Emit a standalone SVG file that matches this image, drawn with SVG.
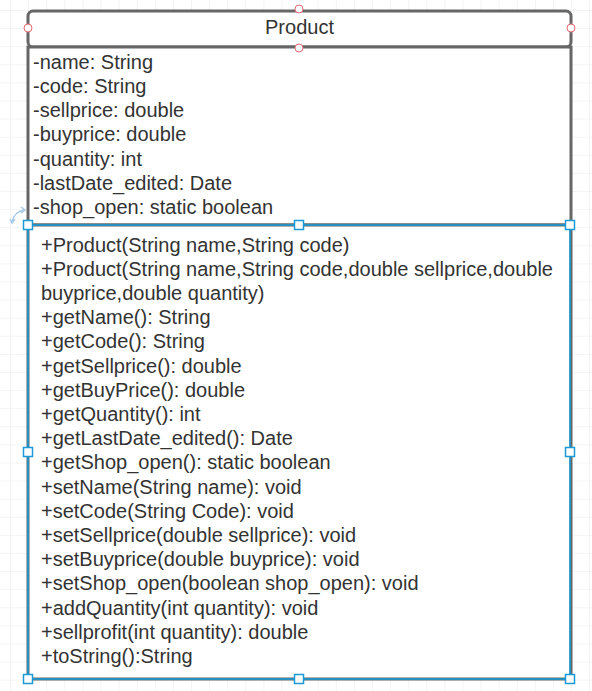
<svg xmlns="http://www.w3.org/2000/svg" width="592" height="691" viewBox="0 0 592 691">
<style>
.t{font-family:"Liberation Sans",Arial,sans-serif;font-size:20px;fill:#333}
.box{fill:#fff;stroke:#666;stroke-width:3}
.sel{fill:none;stroke:#1b9ad6;stroke-width:1.6}
.h{fill:#fff;stroke:#1b9ad6;stroke-width:1.5}
.c{fill:#fff;stroke:#e26a72;stroke-width:1}
</style>
<defs>
<pattern id="g" patternUnits="userSpaceOnUse" x="10" y="10" width="18.1" height="18.1">
<path d="M0 0H18.1M0 0V18.1" fill="none" stroke="#e9e9e9" stroke-width="1"/>
</pattern>
</defs>
<rect width="592" height="691" fill="#fff"/>
<rect width="592" height="691" fill="url(#g)"/>
<g id="header">
<rect class="box" x="28" y="11" width="543" height="36" rx="5"/>
<text class="t" x="299.5" y="34" text-anchor="middle">Product</text>
</g>
<g id="attributes">
<rect class="box" x="28" y="47" width="543" height="178"/>
<text class="t" x="33" y="68.5">-name: String</text>
<text class="t" x="33" y="92.8">-code: String</text>
<text class="t" x="33" y="117.1">-sellprice: double</text>
<text class="t" x="33" y="141.4">-buyprice: double</text>
<text class="t" x="33" y="165.7">-quantity: int</text>
<text class="t" x="33" y="190">-lastDate_edited: Date</text>
<text class="t" x="33" y="214.3">-shop_open: static boolean</text>
</g>
<g id="methods">
<rect class="box" x="28" y="225" width="543" height="454"/>
<rect class="sel" x="28" y="225" width="542" height="454"/>
<text class="t" x="41" y="251.5">+Product(String name,String code)</text>
<text class="t" x="41" y="275.7">+Product(String name,String code,double sellprice,double</text>
<text class="t" x="41" y="299.9">buyprice,double quantity)</text>
<text class="t" x="41" y="324.1">+getName(): String</text>
<text class="t" x="41" y="348.3">+getCode(): String</text>
<text class="t" x="41" y="372.5">+getSellprice(): double</text>
<text class="t" x="41" y="396.7">+getBuyPrice(): double</text>
<text class="t" x="41" y="420.9">+getQuantity(): int</text>
<text class="t" x="41" y="445.1">+getLastDate_edited(): Date</text>
<text class="t" x="41" y="469.3">+getShop_open(): static boolean</text>
<text class="t" x="41" y="493.5">+setName(String name): void</text>
<text class="t" x="41" y="517.7">+setCode(String Code): void</text>
<text class="t" x="41" y="541.9">+setSellprice(double sellprice): void</text>
<text class="t" x="41" y="566.1">+setBuyprice(double buyprice): void</text>
<text class="t" x="41" y="590.3">+setShop_open(boolean shop_open): void</text>
<text class="t" x="41" y="614.5">+addQuantity(int quantity): void</text>
<text class="t" x="41" y="638.7">+sellprofit(int quantity): double</text>
<text class="t" x="41" y="662.9">+toString():String</text>
</g>
<g id="handles">
<circle class="c" cx="28" cy="28" r="4"/>
<circle class="c" cx="571" cy="28" r="4"/>
<circle class="c" cx="299" cy="9" r="4"/>
<circle class="c" cx="299" cy="48" r="4"/>
<rect class="h" x="23.5" y="220.5" width="9" height="9"/>
<rect class="h" x="294.5" y="220.5" width="9" height="9"/>
<rect class="h" x="565.5" y="220.5" width="9" height="9"/>
<rect class="h" x="23.5" y="447.5" width="9" height="9"/>
<rect class="h" x="565.5" y="447.5" width="9" height="9"/>
<rect class="h" x="23.5" y="674.5" width="9" height="9"/>
<rect class="h" x="294.5" y="674.5" width="9" height="9"/>
<rect class="h" x="565.5" y="674.5" width="9" height="9"/>
<path d="M12 222 Q14 212 24 210 M21 207 L25 210 L21 213 M10 219 L12 223 L15 219" fill="none" stroke="#a9cbe9" stroke-width="1.5"/>
</g>
</svg>
